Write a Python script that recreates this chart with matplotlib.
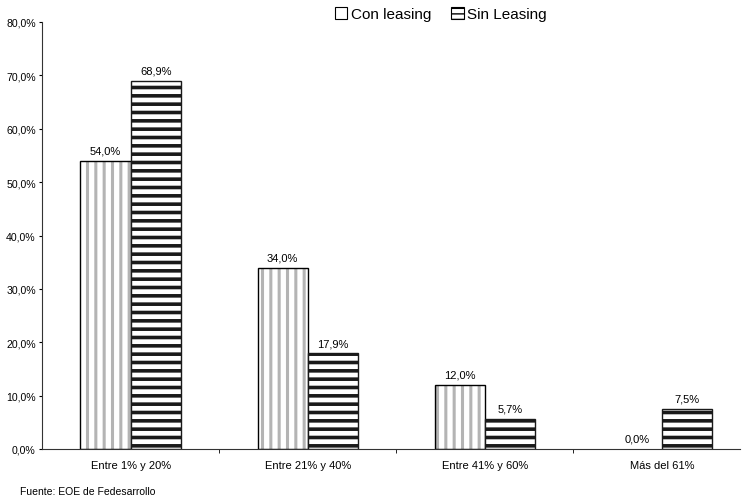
import numpy as np
import matplotlib
matplotlib.use("Agg")
import matplotlib.pyplot as plt
from matplotlib.patches import Patch

plt.rcParams['font.family'] = ['Liberation Sans', 'DejaVu Sans']

categories = ["Entre 1% y 20%", "Entre 21% y 40%", "Entre 41% y 60%", "Más del 61%"]
con_leasing = [54.0, 34.0, 12.0, 0.0]
sin_leasing = [68.9, 17.9, 5.7, 7.5]
series_names = ["Con leasing", "Sin Leasing"]
y_ticks = [0, 10, 20, 30, 40, 50, 60, 70, 80]


def pct(v):
    return f"{v:.1f}%".replace(".", ",")


fig = plt.figure(figsize=(7.44, 5.02), dpi=100)
ax = fig.add_axes([42 / 744, 52 / 502, 698 / 744, 427 / 502])

x = np.arange(len(categories))
w = 0.283

# vertical gray stripes, then a black outline on top
bars_con = ax.bar(x - w / 2, con_leasing, w, facecolor='white',
                  edgecolor='#b4b4b4', hatch='||', linewidth=0)
for b in bars_con:
    b.set_hatch_linewidth(2.2)
outline = ax.bar(x - w / 2, con_leasing, w, fill=False, edgecolor='black', linewidth=1.0)
for b, v in zip(outline, con_leasing):
    if v == 0:
        b.set_visible(False)
bars_sin = ax.bar(x + w / 2, sin_leasing, w, facecolor='white',
                  edgecolor='#1a1a1a', hatch='--', linewidth=1.0)
for b in bars_sin:
    b.set_hatch_linewidth(2.6)

for xi, v in zip(x - w / 2, con_leasing):
    ax.text(xi, v + 1.0, pct(v), ha='center', va='bottom', fontsize=8)
for xi, v in zip(x + w / 2, sin_leasing):
    ax.text(xi, v + 1.0, pct(v), ha='center', va='bottom', fontsize=8)

ax.set_ylim(0, 80)
ax.set_yticks(y_ticks)
ax.set_yticklabels([pct(t) for t in y_ticks], fontsize=7.6)
ax.set_xlim(-0.5, 3.44)
ax.set_xticks(x)
ax.set_xticklabels(categories, fontsize=8)
ax.tick_params(axis='x', length=0, pad=8)
ax.set_xticks([0.5, 1.5, 2.5], minor=True)
ax.tick_params(axis='x', which='minor', length=3, direction='out')
ax.tick_params(axis='y', length=2.5, direction='out', width=0.8, pad=2)

for side in ['top', 'right']:
    ax.spines[side].set_visible(False)
ax.spines['left'].set_color('#333333')
ax.spines['bottom'].set_color('#333333')

handles = [
    Patch(facecolor='white', edgecolor='black', linewidth=0.8),
    Patch(facecolor='white', edgecolor='black', hatch='---', linewidth=0.8),
]
fig.legend(handles, series_names, loc='center', bbox_to_anchor=(441 / 744, 1 - 15 / 502),
           ncol=2, frameon=False, fontsize=11, handlelength=0.8, handleheight=0.8,
           handletextpad=0.25, columnspacing=1.3)

fig.text(20 / 744, 1 - 492 / 502, "Fuente: EOE de Fedesarrollo", fontsize=7.5,
         ha='left', va='center')

fig.savefig("out.png", dpi=100)
